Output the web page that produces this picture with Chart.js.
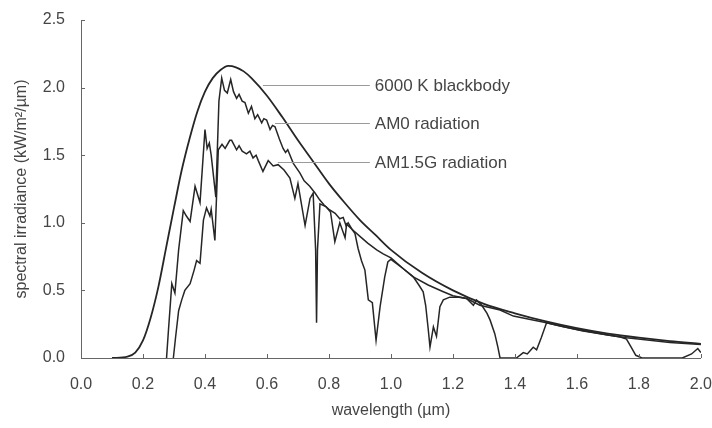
<!DOCTYPE html>
<html>
<head>
<meta charset="utf-8">
<script src="https://cdn.jsdelivr.net/npm/chart.js@4.4.1/dist/chart.umd.min.js"></script>
<style>
    html, body { margin: 0; padding: 0; background: #fff; }
    #wrap { width: 712px; height: 428px; }
</style>
</head>
<body>
<div id="wrap"><canvas id="spectrum"></canvas></div>
<script>
// 6000 K blackbody curve
const bbWave = [0.10, 0.15, 0.175, 0.20, 0.225, 0.25, 0.275, 0.30, 0.325, 0.35, 0.375, 0.40, 0.425, 0.45, 0.475, 0.50, 0.525, 0.55, 0.60, 0.65, 0.70, 0.75, 0.80, 0.85, 0.90, 0.95, 1.00, 1.10, 1.20, 1.30, 1.40, 1.50, 1.60, 1.70, 1.80, 1.90, 2.00];
const bbVal = [0.0, 0.01, 0.04, 0.13, 0.30, 0.53, 0.82, 1.11, 1.39, 1.62, 1.82, 1.97, 2.07, 2.13, 2.16, 2.15, 2.12, 2.07, 1.94, 1.78, 1.61, 1.45, 1.29, 1.15, 1.02, 0.91, 0.80, 0.63, 0.50, 0.40, 0.33, 0.27, 0.22, 0.18, 0.15, 0.125, 0.105];

// AM0 (extraterrestrial) spectrum
const am0Wave = [0.276, 0.282, 0.293, 0.303, 0.315, 0.33, 0.34, 0.352, 0.368, 0.384, 0.40, 0.407, 0.414, 0.42, 0.435, 0.445, 0.454, 0.463, 0.472, 0.483, 0.492, 0.502, 0.51, 0.52, 0.529, 0.54, 0.55, 0.561, 0.57, 0.583, 0.59, 0.599, 0.61, 0.618, 0.626, 0.64, 0.652, 0.66, 0.667, 0.685, 0.706, 0.72, 0.738, 0.755, 0.77, 0.785, 0.80, 0.82, 0.835, 0.846, 0.855, 0.862, 0.875, 0.90, 0.925, 0.954, 0.975, 1.00, 1.04, 1.072, 1.12, 1.169, 1.20, 1.244, 1.287, 1.352, 1.395, 1.45, 1.502, 1.55, 1.62, 1.70, 1.76, 1.82, 1.90, 2.00];
const am0Val = [0.0, 0.2, 0.55, 0.48, 0.8, 1.09, 1.05, 1.01, 1.27, 1.15, 1.69, 1.55, 1.59, 1.5, 1.19, 1.9, 2.07, 1.98, 1.96, 2.06, 1.97, 1.92, 1.95, 1.9, 1.89, 1.81, 1.86, 1.77, 1.80, 1.74, 1.77, 1.76, 1.69, 1.72, 1.71, 1.62, 1.55, 1.52, 1.54, 1.44, 1.37, 1.31, 1.27, 1.22, 1.17, 1.13, 1.10, 1.07, 1.03, 1.04, 0.98, 1.0, 0.95, 0.90, 0.85, 0.80, 0.77, 0.74, 0.66, 0.60, 0.54, 0.49, 0.46, 0.44, 0.39, 0.355, 0.31, 0.285, 0.26, 0.235, 0.20, 0.17, 0.15, 0.135, 0.115, 0.10];

// AM1.5G (terrestrial, global) spectrum
const amgWave = [0.298, 0.305, 0.315, 0.325, 0.335, 0.352, 0.365, 0.373, 0.384, 0.395, 0.405, 0.416, 0.42, 0.432, 0.443, 0.455, 0.465, 0.48, 0.486, 0.502, 0.51, 0.52, 0.534, 0.545, 0.555, 0.565, 0.572, 0.587, 0.604, 0.62, 0.636, 0.655, 0.674, 0.69, 0.70, 0.723, 0.739, 0.749, 0.757, 0.76, 0.763, 0.771, 0.79, 0.805, 0.819, 0.835, 0.852, 0.857, 0.875, 0.884, 0.894, 0.905, 0.916, 0.927, 0.94, 0.952, 0.965, 0.98, 0.99, 1.00, 1.04, 1.072, 1.09, 1.104, 1.112, 1.12, 1.126, 1.137, 1.147, 1.158, 1.169, 1.19, 1.22, 1.244, 1.266, 1.276, 1.293, 1.31, 1.32, 1.335, 1.345, 1.352, 1.405, 1.427, 1.44, 1.459, 1.47, 1.485, 1.502, 1.55, 1.60, 1.65, 1.70, 1.74, 1.76, 1.775, 1.79, 1.81, 1.94, 1.97, 1.99, 2.00];
const amgVal = [0.0, 0.15, 0.35, 0.43, 0.5, 0.55, 0.65, 0.72, 0.70, 1.02, 1.11, 1.05, 1.10, 0.87, 1.54, 1.58, 1.55, 1.61, 1.61, 1.54, 1.57, 1.53, 1.51, 1.53, 1.48, 1.50, 1.46, 1.38, 1.46, 1.42, 1.43, 1.39, 1.33, 1.18, 1.29, 0.98, 1.18, 1.22, 0.8, 0.26, 0.8, 1.14, 1.12, 1.08, 0.86, 1.0, 0.89, 0.99, 0.95, 0.92, 0.81, 0.72, 0.65, 0.43, 0.41, 0.13, 0.38, 0.60, 0.71, 0.73, 0.66, 0.60, 0.54, 0.49, 0.39, 0.22, 0.08, 0.23, 0.16, 0.38, 0.43, 0.45, 0.45, 0.44, 0.39, 0.43, 0.39, 0.33, 0.28, 0.18, 0.08, 0.0, 0.0, 0.04, 0.03, 0.08, 0.06, 0.15, 0.26, 0.235, 0.21, 0.19, 0.17, 0.155, 0.14, 0.08, 0.02, 0.0, 0.0, 0.03, 0.07, 0.04];

// axis ticks
const xTicks = [0, 0.2, 0.4, 0.6, 0.8, 1.0, 1.2, 1.4, 1.6, 1.8, 2.0];
const yTicks = [0, 0.5, 1.0, 1.5, 2.0, 2.5];

// curve labels: text, level of the leader line, where the leader leaves the curve
const noteText = ["6000 K blackbody", "AM0 radiation", "AM1.5G radiation"];
const noteLevel = [2.02, 1.74, 1.45];
const noteFrom = [0.587, 0.626, 0.635];
const noteLineEnd = 0.932;
const noteTextAt = 0.948;

const textColor = "#454545";
const curveColor = "#262626";
const fontFamily = "'Liberation Sans', Arial, sans-serif";

function toPoints(waves, vals) {
    return waves.map((w, i) => ({ x: w, y: vals[i] }));
}

// small tick marks pointing into the plot, like the original
const innerTicks = {
    id: "innerTicks",
    afterDraw(chart) {
        const ctx = chart.ctx;
        const xs = chart.scales.x, ys = chart.scales.y;
        ctx.save();
        ctx.strokeStyle = "#666";
        ctx.lineWidth = 1;
        ctx.beginPath();
        xTicks.forEach(v => {
            if (v === 0) return;
            let px = Math.round(xs.getPixelForValue(v)) + 0.5;
            ctx.moveTo(px, ys.bottom);
            ctx.lineTo(px, ys.bottom - 4);
        });
        yTicks.forEach(v => {
            if (v === 0) return;
            let py = Math.round(ys.getPixelForValue(v)) + 0.5;
            ctx.moveTo(xs.left, py);
            ctx.lineTo(xs.left + 4, py);
        });
        ctx.stroke();
        ctx.restore();
    }
};

// leader lines and labels for the three curves
const curveNotes = {
    id: "curveNotes",
    afterDatasetsDraw(chart) {
        const ctx = chart.ctx;
        const xs = chart.scales.x, ys = chart.scales.y;
        ctx.save();
        ctx.font = "17px " + fontFamily;
        ctx.fillStyle = textColor;
        ctx.textBaseline = "middle";
        ctx.textAlign = "left";
        noteText.forEach((t, i) => {
            let py = Math.round(ys.getPixelForValue(noteLevel[i])) + 0.5;
            ctx.strokeStyle = "#9a9a9a";
            ctx.lineWidth = 1;
            ctx.beginPath();
            ctx.moveTo(xs.getPixelForValue(noteFrom[i]), py);
            ctx.lineTo(xs.getPixelForValue(noteLineEnd), py);
            ctx.stroke();
            ctx.fillText(t, xs.getPixelForValue(noteTextAt), py + 1);
        });
        ctx.restore();
    }
};

const ctx = document.getElementById("spectrum").getContext("2d");
const spectrumChart = new Chart(ctx, {
    type: "line",
    data: {
        datasets: [
            {
                label: "6000 K blackbody",
                data: toPoints(bbWave, bbVal),
                borderColor: curveColor,
                borderWidth: 1.8,
                cubicInterpolationMode: "monotone",
                pointRadius: 0,
                fill: false
            },
            {
                label: "AM0 radiation",
                data: toPoints(am0Wave, am0Val),
                borderColor: curveColor,
                borderWidth: 1.5,
                tension: 0,
                pointRadius: 0,
                fill: false
            },
            {
                label: "AM1.5G radiation",
                data: toPoints(amgWave, amgVal),
                borderColor: curveColor,
                borderWidth: 1.5,
                tension: 0,
                pointRadius: 0,
                fill: false
            }
        ]
    },
    options: {
        responsive: true,
        maintainAspectRatio: false,
        animation: false,
        devicePixelRatio: 1,
        layout: { padding: { top: 20, right: 11, bottom: 0, left: 0 } },
        plugins: {
            legend: { display: false },
            tooltip: { enabled: false }
        },
        scales: {
            x: {
                type: "linear",
                min: 0,
                max: 2,
                afterFit: scale => { scale.height = 70; },
                afterBuildTicks: scale => { scale.ticks = xTicks.map(v => ({ value: v })); },
                // ticks are drawn inside by the plugin; tickLength only spaces the labels
                grid: { display: false, drawTicks: true, tickLength: 17 },
                border: { display: true, color: "#666", width: 1 },
                ticks: {
                    color: textColor,
                    padding: 0,
                    maxRotation: 0,
                    font: { family: fontFamily, size: 16 },
                    callback: v => v.toFixed(1)
                },
                title: {
                    display: true,
                    text: "wavelength (µm)",
                    color: textColor,
                    font: { family: fontFamily, size: 16 },
                    padding: { top: 0, bottom: 8 }
                }
            },
            y: {
                min: 0,
                max: 2.5,
                afterFit: scale => { scale.width = 81; },
                afterBuildTicks: scale => { scale.ticks = yTicks.map(v => ({ value: v })); },
                grid: { display: false, drawTicks: true, tickLength: 16 },
                border: { display: true, color: "#666", width: 1 },
                ticks: {
                    color: textColor,
                    padding: 0,
                    font: { family: fontFamily, size: 16 },
                    callback: v => v.toFixed(1)
                },
                title: {
                    display: true,
                    text: "spectral irradiance (kW/m²/µm)",
                    color: textColor,
                    font: { family: fontFamily, size: 16 },
                    padding: { top: 12, bottom: 0 }
                }
            }
        }
    },
    plugins: [innerTicks, curveNotes]
});
</script>
</body>
</html>
